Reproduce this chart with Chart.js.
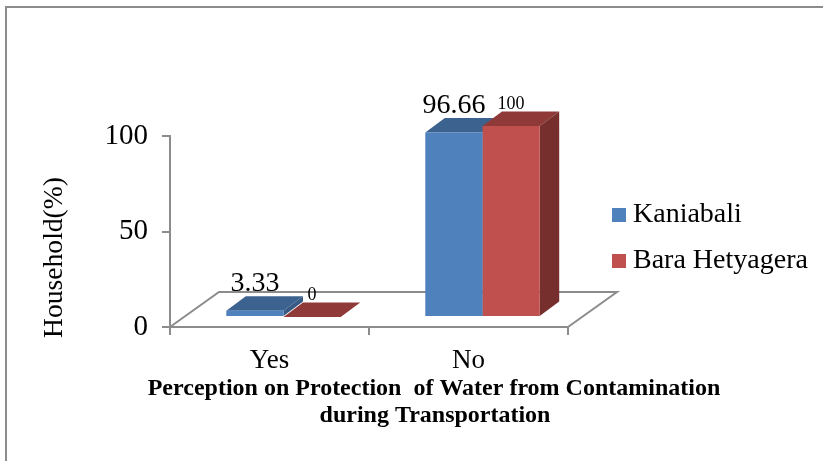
<!DOCTYPE html>
<html>
<head>
<meta charset="utf-8">
<style>
  html, body { margin: 0; padding: 0; background: #ffffff; }
  #wrap { position: relative; width: 823px; height: 461px; }
</style>
<script src="https://cdn.jsdelivr.net/npm/chart.js@4"></script>
</head>
<body>
<div id="wrap"><canvas id="myChart" width="823" height="461"></canvas></div>
<script>
//Data
var categories = ["Yes", "No"];
var kaniabali = [3.33, 96.66];
var baraHetyagera = [0, 100];
var seriesNames = ["Kaniabali", "Bara Hetyagera"];
var yTicks = [0, 50, 100];
var xTitleLines = ["Perception on Protection  of Water from Contamination", "during Transportation"];
var yTitle = "Household(%)";

var serif = "'Liberation Serif', 'Times New Roman', serif";
var axisColor = "#8c8c8c";
var frontColors = ["#4f81bd", "#c0504d"];
var topColors = ["#3c6390", "#8f3a38"];
var sideColors = ["#375a85", "#772f2d"];
//Size of the data labels, one per series
var labelSizes = [28, 18];
var labelGaps = [27, 22];

//The bars stand on the floor of the 3D box, not on the axis
var barShift = { x: 14, y: -10 };
var depth = { x: 19.5, y: -14.5 };
//The floor goes from the axis line to this offset
var floorDepth = { x: 49, y: -35 };

//Draws the frame, floor, 3D sides, data labels and titles around the bars
var boxPlugin = {
    id: "box3d",
    beforeDraw: function (chart) {
        var ctx = chart.ctx;
        var area = chart.chartArea;
        ctx.save();
        //Frame: only top and left are visible in the picture
        ctx.strokeStyle = axisColor;
        ctx.lineWidth = 2;
        ctx.beginPath();
        ctx.moveTo(6, 461);
        ctx.lineTo(6, 7);
        ctx.lineTo(823, 7);
        ctx.stroke();
        //Floor
        ctx.beginPath();
        ctx.moveTo(area.left, area.bottom);
        ctx.lineTo(area.left + floorDepth.x, area.bottom + floorDepth.y);
        ctx.lineTo(area.right + floorDepth.x, area.bottom + floorDepth.y);
        ctx.lineTo(area.right, area.bottom);
        ctx.stroke();
        ctx.restore();
    },
    beforeDatasetsDraw: function (chart) {
        var ctx = chart.ctx;
        ctx.save();
        ctx.translate(barShift.x, barShift.y);
        for (var c = 0; c < categories.length; c++) {
            for (var d = 0; d < chart.data.datasets.length; d++) {
                var bar = chart.getDatasetMeta(d).data[c];
                var l = bar.x - bar.width / 2;
                var r = bar.x + bar.width / 2;
                //top
                ctx.fillStyle = topColors[d];
                ctx.beginPath();
                ctx.moveTo(l, bar.y);
                ctx.lineTo(r, bar.y);
                ctx.lineTo(r + depth.x, bar.y + depth.y);
                ctx.lineTo(l + depth.x, bar.y + depth.y);
                ctx.closePath();
                ctx.fill();
                //side
                ctx.fillStyle = sideColors[d];
                ctx.beginPath();
                ctx.moveTo(r, bar.y);
                ctx.lineTo(r + depth.x, bar.y + depth.y);
                ctx.lineTo(r + depth.x, bar.base + depth.y);
                ctx.lineTo(r, bar.base);
                ctx.closePath();
                ctx.fill();
            }
        }
        //Left open for the library to draw the bar fronts in the same shift
    },
    afterDatasetsDraw: function (chart) {
        var ctx = chart.ctx;
        ctx.fillStyle = "#000000";
        ctx.textAlign = "center";
        ctx.textBaseline = "middle";
        for (var d = 0; d < chart.data.datasets.length; d++) {
            var values = chart.data.datasets[d].data;
            for (var c = 0; c < values.length; c++) {
                var bar = chart.getDatasetMeta(d).data[c];
                ctx.font = labelSizes[d] + "px " + serif;
                ctx.fillText(String(values[c]), bar.x, bar.y - labelGaps[d]);
            }
        }
        ctx.restore();

        //Axis titles, they are not centred on the plot so they are placed by hand
        ctx.save();
        ctx.fillStyle = "#000000";
        ctx.textAlign = "center";
        ctx.textBaseline = "middle";
        ctx.font = "bold 24px " + serif;
        ctx.fillText(xTitleLines[0], 434, 389);
        ctx.fillText(xTitleLines[1], 435, 416);
        ctx.translate(62, 257.5);
        ctx.rotate(-Math.PI / 2);
        ctx.textBaseline = "alphabetic";
        ctx.font = "27.6px " + serif;
        ctx.fillText(yTitle, 0, 0);
        ctx.restore();
    },
    afterLayout: function (chart) {
        //Legend sits beside the plot, right of the floor
        var legend = chart.legend;
        var pad = legend.options.labels.padding;
        legend.left = 619 - pad;
        legend.right = legend.left + legend.width;
        legend.top = 201 - pad;
        legend.bottom = legend.top + legend.height;
    }
};

var infoChart = new Chart("myChart", {
    type: "bar",
    data: {
        labels: categories,
        datasets: [
            { label: seriesNames[0], data: kaniabali, backgroundColor: frontColors[0] },
            { label: seriesNames[1], data: baraHetyagera, backgroundColor: frontColors[1] }
        ]
    },
    plugins: [boxPlugin],
    options: {
        responsive: false,
        animation: false,
        layout: { padding: { left: 0, right: 255, top: 136, bottom: 0 } },
        datasets: { bar: { categoryPercentage: 0.575, barPercentage: 1, clip: false } },
        plugins: {
            tooltip: { enabled: false },
            title: { display: false },
            legend: {
                display: true,
                position: "chartArea",
                align: "start",
                labels: {
                    color: "#000000",
                    //Point style with a tiny box width keeps the text close to the swatch
                    usePointStyle: true,
                    pointStyle: "rect",
                    boxWidth: 0.01,
                    boxHeight: 14,
                    padding: 18,
                    font: { family: serif, size: 28 }
                }
            }
        },
        scales: {
            x: {
                offset: true,
                afterFit: function (scale) { scale.height = 461 - 327; },
                border: { color: axisColor, width: 2 },
                grid: { display: true, offset: true, drawOnChartArea: false, color: axisColor, lineWidth: 2, tickLength: 8 },
                ticks: { color: "#000000", padding: 10, maxRotation: 0, font: { family: serif, size: 27 } }
            },
            y: {
                min: 0,
                max: 100,
                afterFit: function (scale) { scale.width = 170; },
                afterBuildTicks: function (scale) {
                    scale.ticks = yTicks.map(function (v) { return { value: v }; });
                },
                border: { color: axisColor, width: 2 },
                grid: { display: true, drawOnChartArea: false, color: axisColor, lineWidth: 2, tickLength: 8 },
                ticks: { color: "#000000", padding: 14, font: { family: serif, size: 29 } }
            }
        }
    }
});
</script>
</body>
</html>
